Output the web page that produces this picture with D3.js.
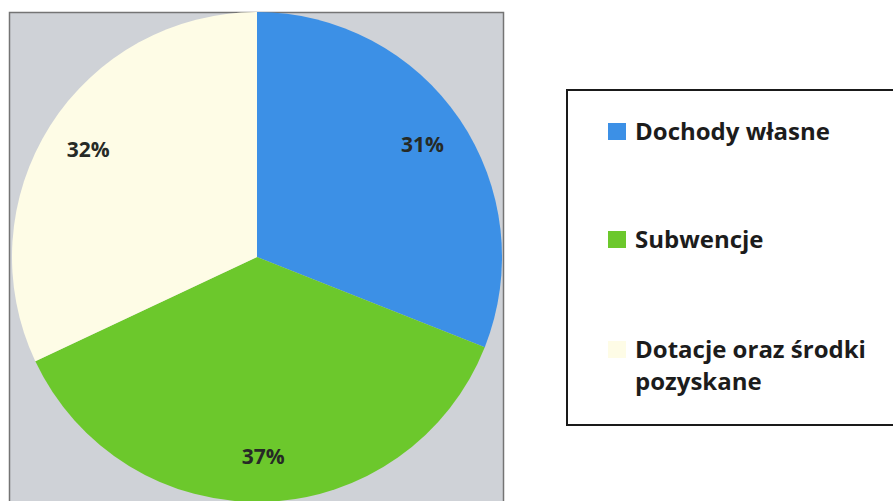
<!DOCTYPE html>
<html>
<head>
<meta charset="utf-8">
<script src="https://cdn.jsdelivr.net/npm/d3@7"></script>
<style>
  html, body { margin: 0; padding: 0; background: #ffffff; }
  svg { display: block; }
</style>
</head>
<body>
<svg id="chart" width="893" height="501"></svg>
<script>
const categories = ["Dochody własne", "Subwencje", "Dotacje oraz środki pozyskane"];
const legendLines = [["Dochody własne"], ["Subwencje"], ["Dotacje oraz środki", "pozyskane"]];
const values = [31, 37, 32];
const colors = ["#3c90e6", "#6cc82c", "#fefce6"];

const svg = d3.select("#chart");

// plot area background
svg.append("rect")
  .attr("x", 9.5).attr("y", 12.5)
  .attr("width", 494).attr("height", 520)
  .attr("fill", "#cfd2d7")
  .attr("stroke", "#747474").attr("stroke-width", 1.5);

const cx = 257, cy = 257, R = 245;
const g = svg.append("g").attr("transform", `translate(${cx},${cy})`);

const pie = d3.pie().sort(null).value(d => d)(values);
const arc = d3.arc().innerRadius(0).outerRadius(R);
const labelArc = d3.arc().innerRadius(200).outerRadius(200);

g.selectAll("path.slice")
  .data(pie)
  .join("path")
  .attr("class", "slice")
  .attr("d", arc)
  .attr("fill", (d, i) => colors[i]);

const total = d3.sum(values);
g.selectAll("text.lbl")
  .data(pie)
  .join("text")
  .attr("class", "lbl")
  .attr("transform", d => { const c = labelArc.centroid(d); return `translate(${c[0]},${c[1]})`; })
  .attr("text-anchor", "middle")
  .attr("dy", "0.36em")
  .attr("font-family", "'Open Sans', sans-serif")
  .attr("font-weight", "bold")
  .attr("font-size", 21)
  .attr("fill", "#262a26")
  .text(d => Math.round(d.data / total * 100) + "%");

// legend box
svg.append("rect")
  .attr("x", 567).attr("y", 90)
  .attr("width", 340).attr("height", 335)
  .attr("fill", "#ffffff")
  .attr("stroke", "#1a1a1a").attr("stroke-width", 2);

const legendY = [140, 248, 358];
const lg = svg.append("g");
categories.forEach((c, i) => {
  lg.append("rect")
    .attr("x", 608).attr("y", legendY[i] - 17)
    .attr("width", 18).attr("height", 17)
    .attr("fill", colors[i]);
  const t = lg.append("text")
    .attr("x", 635).attr("y", legendY[i])
    .attr("font-family", "'Open Sans', sans-serif")
    .attr("font-weight", "bold")
    .attr("font-size", 24)
    .attr("fill", "#1c1c1c");
  legendLines[i].forEach((ln, j) => {
    t.append("tspan").attr("x", 635).attr("dy", j === 0 ? 0 : 32).text(ln);
  });
});
</script>
</body>
</html>
